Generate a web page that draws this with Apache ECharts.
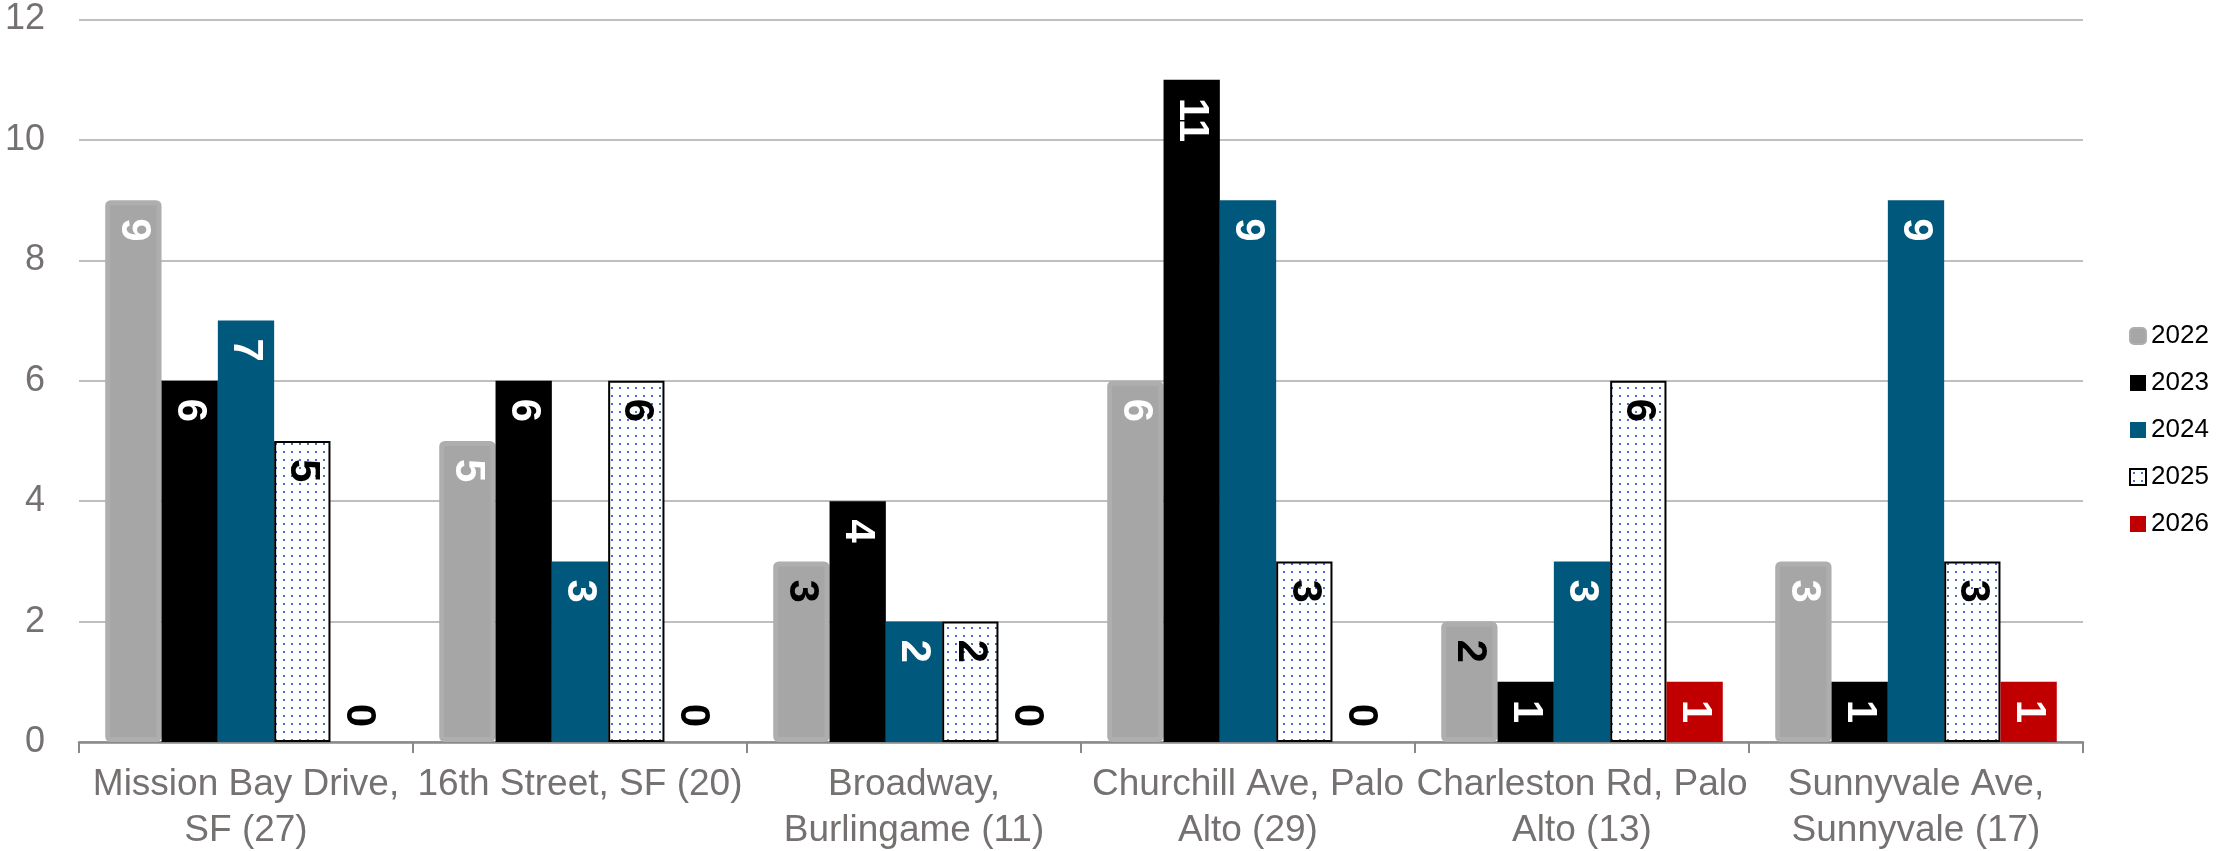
<!DOCTYPE html>
<html>
<head>
<meta charset="utf-8">
<script src="https://cdn.jsdelivr.net/npm/echarts@6/dist/echarts.min.js"></script>
<style>
html,body{margin:0;padding:0;background:#fff;}
#chart{width:2216px;height:851px;}
</style>
</head>
<body>
<div id="chart"></div>
<script>
const categories = [
  "Mission Bay Drive,\nSF (27)",
  "16th Street, SF (20)",
  "Broadway,\nBurlingame (11)",
  "Churchill Ave, Palo\nAlto (29)",
  "Charleston Rd, Palo\nAlto (13)",
  "Sunnyvale Ave,\nSunnyvale (17)"
];
const seriesNames = ["2022", "2023", "2024", "2025", "2026"];
const v2022 = [9, 5, 3, 6, 2, 3];
const v2023 = [6, 6, 4, 11, 1, 1];
const v2024 = [7, 3, 2, 9, 3, 9];
const v2025 = [5, 6, 2, 3, 6, 3];
const v2026 = [0, 0, 0, 0, 1, 1];
const yTicks = [0, 2, 4, 6, 8, 10, 12];

// dotted pattern for 2025
const pc = document.createElement('canvas');
pc.width = 8; pc.height = 8;
const pctx = pc.getContext('2d');
pctx.fillStyle = '#ffffff';
pctx.fillRect(0, 0, 8, 8);
pctx.fillStyle = '#4472c4';
pctx.fillRect(3, 3, 2, 2);
const dotPattern = { image: pc, repeat: 'repeat' };

const labelFont = { fontFamily: 'Liberation Sans, Arial, sans-serif', fontWeight: 'bold', fontSize: 42 };
const darkLabel2022 = [2, 4];

function makeData(values, darkIdx) {
  return values.map((v, i) => {
    const item = { value: v };
    const lab = {};
    if (darkIdx && darkIdx.indexOf(i) >= 0) lab.color = '#000000';
    if (v === 0) {
      lab.position = 'top';
      lab.align = 'right';
      lab.distance = 15;
      lab.color = '#000000';
    }
    if (Object.keys(lab).length) item.label = lab;
    return item;
  });
}

function baseLabel(color) {
  return Object.assign({
    show: true,
    position: 'insideTop',
    rotate: -90,
    align: 'left',
    verticalAlign: 'middle',
    distance: 18,
    color: color
  }, labelFont);
}

const labelColors = ['#ffffff', '#ffffff', '#ffffff', '#000000', '#ffffff'];
const allValues = [v2022, v2023, v2024, v2025, v2026];
const itemStyles = [
  { color: '#a6a6a6', borderColor: '#aeaeae', borderWidth: 5, borderRadius: 3 },
  { color: '#000000' },
  { color: '#00587c' },
  { color: dotPattern, borderColor: '#000000', borderWidth: 2 },
  { color: '#c00000' }
];

const series = seriesNames.map((name, k) => ({
  name: name,
  type: 'bar',
  barGap: '0%',
  barCategoryGap: '15.7%',
  itemStyle: itemStyles[k],
  label: baseLabel(labelColors[k]),
  data: makeData(allValues[k], k === 0 ? darkLabel2022 : null),
  z: k === 0 ? 1 : 2
}));

const chart = echarts.init(document.getElementById('chart'));
chart.setOption({
  animation: false,
  backgroundColor: '#ffffff',
  grid: { left: 79, right: 133, top: 19.5, bottom: 109, containLabel: false, outerBoundsMode: 'none' },
  legend: {
    orient: 'vertical',
    left: 2124,
    top: 318,
    itemWidth: 16,
    itemHeight: 16,
    itemGap: 21,
    textStyle: { fontFamily: 'Liberation Sans, Arial, sans-serif', fontSize: 26, color: '#000000' },
    data: seriesNames.map((n, k) => ({ name: n, icon: k === 0 ? 'roundRect' : 'rect' }))
  },
  xAxis: {
    type: 'category',
    data: categories,
    axisLine: { lineStyle: { color: '#898989', width: 2.5 } },
    axisTick: { show: true, length: 11, lineStyle: { color: '#898989', width: 2 } },
    axisLabel: {
      interval: 0,
      margin: 20,
      color: '#767171',
      fontFamily: 'Liberation Sans, Arial, sans-serif',
      fontSize: 37,
      lineHeight: 46
    }
  },
  yAxis: {
    type: 'value',
    min: yTicks[0],
    max: yTicks[yTicks.length - 1],
    interval: 2,
    axisLine: { show: false },
    axisTick: { show: false },
    splitLine: { lineStyle: { color: '#bfbfbf', width: 2 } },
    axisLabel: {
      margin: 34,
      color: '#767171',
      fontFamily: 'Liberation Sans, Arial, sans-serif',
      fontSize: 36
    }
  },
  series: series
});
</script>
</body>
</html>
